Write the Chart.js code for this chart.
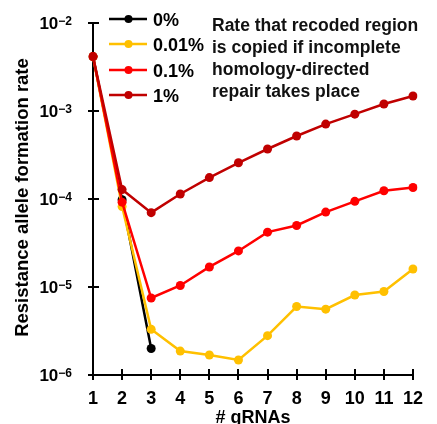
<!DOCTYPE html>
<html><head><meta charset="utf-8">
<script src="https://cdn.jsdelivr.net/npm/chart.js@4"></script>
<style>html,body{margin:0;padding:0;background:#fff}#wrap{width:437px;height:424px;position:relative}canvas{display:block}</style>
</head><body><div id="wrap"><canvas id="c" width="437" height="424"></canvas></div>
<script>
const gRNAs = ['1','2','3','4','5','6','7','8','9','10','11','12'];
const rate0pct   = [4.15e-3, 9.8e-5, 2.0e-6];
const rate001pct = [4.15e-3, 8.2e-5, 3.3e-6, 1.87e-6, 1.69e-6, 1.48e-6, 2.8e-6, 6.0e-6, 5.6e-6, 8.1e-6, 8.9e-6, 1.6e-5];
const rate01pct  = [4.15e-3, 9.2e-5, 7.5e-6, 1.04e-5, 1.69e-5, 2.57e-5, 4.2e-5, 5.0e-5, 7.1e-5, 9.4e-5, 1.24e-4, 1.35e-4];
const rate1pct   = [4.15e-3, 1.28e-4, 7.0e-5, 1.14e-4, 1.75e-4, 2.58e-4, 3.7e-4, 5.2e-4, 7.1e-4, 9.2e-4, 1.2e-3, 1.48e-3];
const seriesLabels = ['0%', '0.01%', '0.1%', '1%'];
const seriesColors = ['#000000', '#ffc000', '#ff0000', '#c00000'];
const yTickExponents = ['−2', '−3', '−4', '−5', '−6'];
const yTickValues = [1e-2, 1e-3, 1e-4, 1e-5, 1e-6];
const xTitle = '# gRNAs';
const yTitle = 'Resistance allele formation rate';
const noteLines = ['Rate that recoded region', 'is copied if incomplete', 'homology-directed', 'repair takes place'];

const FONT = '"Liberation Sans", Arial, sans-serif';
const seriesData = [rate0pct, rate001pct, rate01pct, rate1pct];

const decor = {
  id: 'decor',
  afterDraw(chart) {
    const ctx = chart.ctx;
    const xs = chart.scales.x, ys = chart.scales.y;
    const ca = chart.chartArea;
    ctx.save();
    ctx.strokeStyle = '#000';
    ctx.lineWidth = 2;
    // inward tick parts
    ctx.beginPath();
    yTickValues.forEach(v => {
      const y = Math.round(ys.getPixelForValue(v));
      ctx.moveTo(ca.left, y); ctx.lineTo(ca.left + 6, y);
    });
    gRNAs.forEach((g, i) => {
      const x = Math.round(xs.getPixelForValue(i));
      ctx.moveTo(x, ca.bottom); ctx.lineTo(x, ca.bottom - 6);
    });
    ctx.stroke();
    // y tick labels with superscripts
    ctx.fillStyle = '#000';
    ctx.textBaseline = 'alphabetic';
    ctx.textAlign = 'left';
    yTickValues.forEach((v, i) => {
      const y = ys.getPixelForValue(v);
      ctx.font = 'bold 17px ' + FONT;
      const wb = ctx.measureText('10').width;
      ctx.font = 'bold 12px ' + FONT;
      const ws = ctx.measureText(yTickExponents[i]).width;
      const right = ca.left - 21;
      const x0 = right - ws - wb;
      ctx.font = 'bold 17px ' + FONT;
      ctx.fillText('10', x0, y + 6);
      ctx.font = 'bold 12px ' + FONT;
      ctx.fillText(yTickExponents[i], x0 + wb, y + 2);
    });
    // axis titles
    ctx.font = 'bold 18px ' + FONT;
    ctx.textAlign = 'center';
    ctx.fillText(xTitle, (ca.left + ca.right) / 2, 423);
    ctx.save();
    ctx.translate(28, 197.5);
    ctx.rotate(-Math.PI / 2);
    ctx.font = 'bold 18.5px ' + FONT;
    ctx.fillText(yTitle, 0, 0);
    ctx.restore();
    // legend
    ctx.textAlign = 'left';
    const legY = [19, 44, 70, 95];
    seriesLabels.forEach((lab, i) => {
      const y = legY[i];
      ctx.strokeStyle = seriesColors[i];
      ctx.lineWidth = 2.5;
      ctx.beginPath(); ctx.moveTo(109, y); ctx.lineTo(147, y); ctx.stroke();
      ctx.fillStyle = seriesColors[i];
      ctx.beginPath(); ctx.arc(128.5, y, 4, 0, Math.PI * 2); ctx.fill();
      ctx.fillStyle = '#000';
      ctx.font = 'bold 18px ' + FONT;
      ctx.fillText(lab, 153, y + 7);
    });
    // note
    ctx.fillStyle = '#111';
    ctx.font = 'bold 17.5px ' + FONT;
    noteLines.forEach((t, i) => ctx.fillText(t, 212, 30.5 + i * 22));
    ctx.restore();
  }
};

new Chart(document.getElementById('c'), {
  type: 'line',
  data: {
    labels: gRNAs,
    datasets: seriesLabels.map((lab, i) => ({
      label: lab,
      data: seriesData[i],
      borderColor: seriesColors[i],
      backgroundColor: seriesColors[i],
      pointBackgroundColor: seriesColors[i],
      pointBorderColor: seriesColors[i],
      pointRadius: 4.5,
      pointBorderWidth: 0,
      borderWidth: 2.5,
      tension: 0,
      fill: false,
      order: 3 - i
    }))
  },
  options: {
    responsive: false,
    animation: false,
    devicePixelRatio: 1,
    layout: { padding: { left: 0, right: 24, top: 23, bottom: 0 } },
    plugins: { legend: { display: false }, tooltip: { enabled: false } },
    scales: {
      x: {
        type: 'category',
        offset: false,
        grid: { drawOnChartArea: false, drawTicks: true, tickLength: 5, color: '#000', lineWidth: 2 },
        border: { color: '#000', width: 2 },
        ticks: { color: '#000', font: { family: FONT, weight: 'bold', size: 18 }, padding: 8, maxRotation: 0, autoSkip: false },
        afterFit(s) { s.height = 49; }
      },
      y: {
        type: 'logarithmic',
        min: 1e-6, max: 1e-2,
        afterBuildTicks(s) { s.ticks = yTickValues.map(v => ({ value: v })); },
        grid: { drawOnChartArea: false, drawTicks: true, tickLength: 5, color: '#000', lineWidth: 2 },
        border: { color: '#000', width: 2 },
        ticks: { display: false },
        afterFit(s) { s.width = 93; }
      }
    }
  },
  plugins: [decor]
});
</script>
</body></html>
